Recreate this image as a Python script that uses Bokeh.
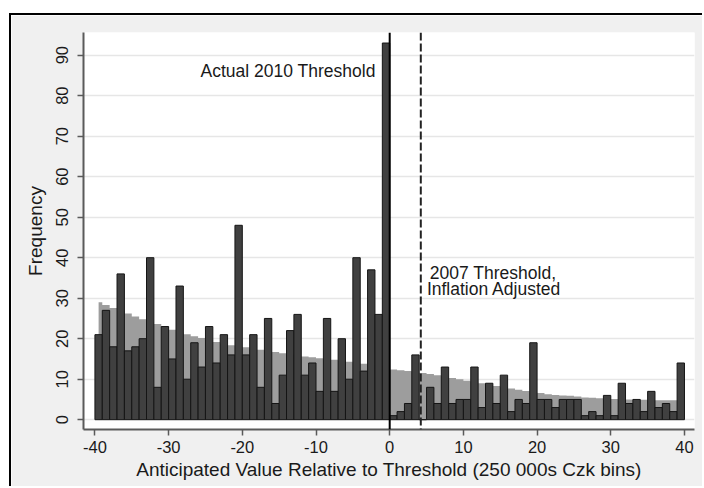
from bokeh.plotting import figure
from bokeh.models import Range1d, FixedTicker, Span, Label
from bokeh.embed import file_html
from bokeh.resources import INLINE

# Lower edges of the 250 000 CZK bins, relative to the 2010 threshold
bins = list(range(-40, 40))

# Observed number of contracts in each bin
observed = [
    21, 27, 18, 36, 17, 18, 20, 40, 8, 23,
    15, 33, 10, 19, 13, 23, 14, 21, 16, 48,
    16, 21, 8, 25, 4, 11, 22, 26, 11, 14,
    7, 25, 7, 20, 10, 40, 12, 37, 26, 93,
    1, 2, 4, 16, 0, 8, 4, 13, 4, 5,
    5, 13, 3, 9, 4, 11, 2, 5, 4, 19,
    5, 5, 3, 5, 5, 5, 1, 2, 1, 6,
    1, 9, 4, 5, 2, 7, 3, 4, 2, 14,
]

# Counterfactual (smoothed) frequency in each bin
counterfactual = [
    29.0, 28.3, 27.6, 26.9, 26.2, 25.5, 24.8, 24.2, 23.6, 23.0,
    22.2, 21.6, 21.1, 20.6, 20.2, 19.7, 19.2, 18.8, 18.4, 18.1,
    17.9, 17.6, 17.3, 17.0, 16.7, 16.4, 16.1, 15.8, 15.6, 15.4,
    15.2, 15.0, 14.8, 14.5, 14.3, 14.0, 13.8, 13.5, 13.1, 12.8,
    12.4, 12.2, 12.0, 11.8, 11.5, 11.3, 11.0, 10.7, 10.3, 10.0,
    9.6, 9.3, 9.0, 8.7, 8.3, 8.0, 7.7, 7.4, 7.1, 6.8,
    6.6, 6.3, 6.1, 6.0, 5.9, 5.7, 5.5, 5.4, 5.3, 5.2,
    5.1, 5.0, 5.0, 4.9, 4.9, 4.8, 4.8, 4.8, 4.8, 4.8,
]

x_ticks = [-40, -30, -20, -10, 0, 10, 20, 30, 40]
y_ticks = [0, 10, 20, 30, 40, 50, 60, 70, 80, 90]

actual_threshold = 0
adjusted_2007_threshold = 4.22

FONT = "Liberation Sans"
AXIS_GRAY = "#5a5a5a"
TEXT = "#1a1a1a"

centers = [b + 0.5 for b in bins]

p = figure(
    width=693, height=473,
    output_backend="svg", toolbar_location=None,
    x_range=Range1d(-41.55, 41.36), y_range=Range1d(-2.42, 95.6),
    min_border_left=72, min_border_right=10,
    min_border_top=17, min_border_bottom=59,
    background_fill_color="white", border_fill_color="#f0f0f0",
    outline_line_color=None,
)
p.margin = (13, 0, 0, 9)
p.styles = {"border-top": "2px solid black", "border-left": "2px solid black"}

# counterfactual distribution as a stepped grey area
p.varea_step(x=centers, y1=[0] * len(bins), y2=counterfactual,
             step_mode="center", fill_color="#9d9d9d")

# observed histogram
p.vbar(x=centers, width=1, bottom=0, top=observed,
       fill_color="#404040", line_color="#151515", line_width=1)

# thresholds
p.add_layout(Span(location=actual_threshold, dimension="height",
                  line_color="black", line_width=2))
p.add_layout(Span(location=adjusted_2007_threshold, dimension="height",
                  line_color="#222222", line_width=2, line_dash="8 3"))

label_style = dict(text_font=FONT, text_font_size="17.5px", text_color=TEXT,
                   text_baseline="middle")
p.add_layout(Label(x=-1.9, y=86.2, text="Actual 2010 Threshold",
                   text_align="right", **label_style))
p.add_layout(Label(x=5.45, y=36.3, text="2007 Threshold,",
                   text_align="left", **label_style))
p.add_layout(Label(x=5.05, y=32.2, text="Inflation Adjusted",
                   text_align="left", **label_style))

# axes
p.xaxis.ticker = FixedTicker(ticks=x_ticks)
p.yaxis.ticker = FixedTicker(ticks=y_ticks)
p.xaxis.major_label_overrides = {t: str(t) for t in x_ticks}
p.yaxis.major_label_overrides = {t: str(t) for t in y_ticks}
p.xaxis.axis_label = "Anticipated Value Relative to Threshold (250 000s Czk bins)"
p.yaxis.axis_label = "Frequency"
p.yaxis.major_label_orientation = "vertical"

for ax in (p.xaxis[0], p.yaxis[0]):
    ax.axis_line_color = AXIS_GRAY
    ax.axis_line_width = 2
    ax.major_tick_line_color = AXIS_GRAY
    ax.major_tick_line_width = 1.5
    ax.major_tick_out = 6
    ax.major_tick_in = 0
    ax.minor_tick_line_color = None
    ax.major_label_text_font = FONT
    ax.major_label_text_font_size = "16.5px"
    ax.major_label_text_color = TEXT
    ax.axis_label_text_font = FONT
    ax.axis_label_text_font_size = "19px"
    ax.axis_label_text_font_style = "normal"
    ax.axis_label_text_color = TEXT

p.xaxis.major_label_standoff = 5
p.xaxis.axis_label_standoff = 3
p.yaxis.major_label_standoff = 9
p.yaxis.axis_label_standoff = 8

p.xgrid.grid_line_color = None
p.ygrid.grid_line_color = "#e6e6e6"
p.ygrid.grid_line_width = 1.5

open("out.html", "w").write(file_html(p, INLINE))
